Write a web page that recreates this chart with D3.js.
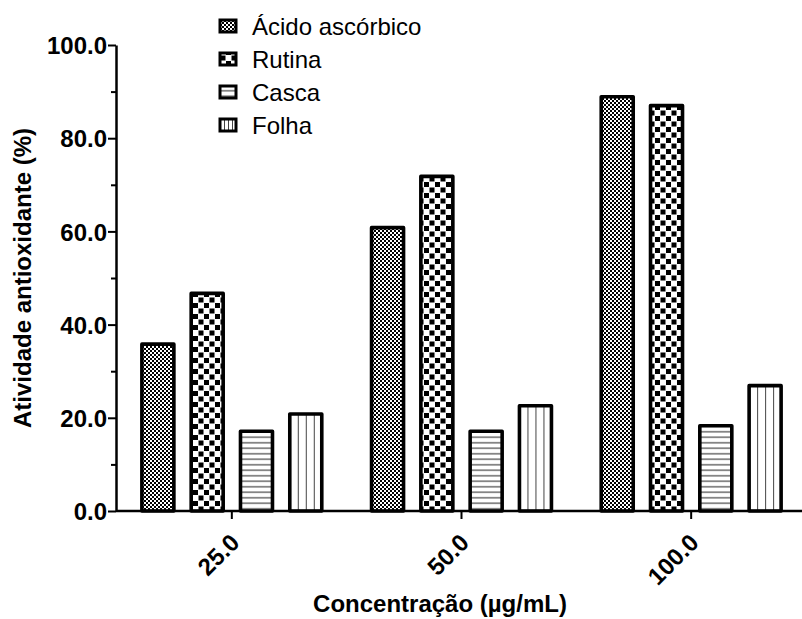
<!DOCTYPE html>
<html><head><meta charset="utf-8">
<script src="https://cdn.jsdelivr.net/npm/d3@7"></script>
<style>
body{margin:0;background:#fff;}
svg{display:block;font-family:"Liberation Sans",Arial,sans-serif;}
</style></head>
<body><svg id="c" width="802" height="619"></svg>
<script>
const categories = ["25.0","50.0","100.0"];
const series = ["Ácido ascórbico","Rutina","Casca","Folha"];
const acido  = [35.8, 60.8, 88.9];
const rutina = [46.7, 71.8, 87.0];
const casca  = [17.1, 17.1, 18.3];
const folha  = [20.8, 22.6, 26.9];
const yTicks = [0,20,40,60,80,100];
const yMinor = [10,30,50,70,90];
const values = [acido, rutina, casca, folha];

const svg = d3.select("#c");
const defs = svg.append("defs");

// patterns
const p0 = defs.append("pattern").attr("id","p0").attr("patternUnits","userSpaceOnUse").attr("width",4).attr("height",4);
p0.append("rect").attr("width",4).attr("height",4).attr("fill","#fff");
p0.append("rect").attr("width",2).attr("height",2).attr("fill","#000");
p0.append("rect").attr("x",2).attr("y",2).attr("width",2).attr("height",2).attr("fill","#000");

const p1 = defs.append("pattern").attr("id","p1").attr("patternUnits","userSpaceOnUse").attr("width",11).attr("height",11);
p1.append("rect").attr("width",11).attr("height",11).attr("fill","#fff");
p1.append("rect").attr("x",0.5).attr("y",0.5).attr("width",5).attr("height",5).attr("fill","#000");
p1.append("rect").attr("x",6).attr("y",6).attr("width",5).attr("height",5).attr("fill","#000");

const p2 = defs.append("pattern").attr("id","p2").attr("patternUnits","userSpaceOnUse").attr("width",10).attr("height",5.5);
p2.append("rect").attr("width",10).attr("height",5.5).attr("fill","#fff");
p2.append("line").attr("x1",0).attr("x2",10).attr("y1",2.75).attr("y2",2.75).attr("stroke","#444").attr("stroke-width",1.2);

const p3 = defs.append("pattern").attr("id","p3").attr("patternUnits","objectBoundingBox").attr("width",0.25).attr("height",1);
p3.append("rect").attr("width",100).attr("height",1000).attr("fill","#fff");
p3.append("line").attr("x1",0).attr("x2",0).attr("y1",0).attr("y2",1000).attr("stroke","#444").attr("stroke-width",2);

const fills = ["url(#p0)","url(#p1)","url(#p2)","url(#p3)"];

const x0 = d3.scaleBand().domain(categories).range([117, 806]);
const x1 = d3.scaleBand().domain(series).range([0, 197.2]).paddingInner(0.351).paddingOuter(0.1755);
const y = d3.scaleLinear().domain([0,100]).range([511, 45]);

// bars
const g = svg.append("g");
categories.forEach((c, ci) => {
  series.forEach((s, si) => {
    const xx = x0(c) + x0.bandwidth()/2 - 98.6 + x1(s);
    g.append("rect")
      .attr("x", xx).attr("y", y(values[si][ci]))
      .attr("width", x1.bandwidth()).attr("height", y(0) - y(values[si][ci]))
      .attr("fill", fills[si]).attr("stroke","#000").attr("stroke-width",3.6)
      .attr("stroke-linejoin","round");
  });
});

// y axis
const ya = svg.append("g").attr("transform","translate(116,0)")
  .call(d3.axisLeft(y).tickValues(yTicks).tickFormat(d3.format(".1f")).tickSize(8).tickSizeOuter(0));
ya.select(".domain").attr("stroke","#000").attr("stroke-width",2.5);
ya.selectAll(".tick line").attr("stroke","#000").attr("stroke-width",2);
ya.selectAll(".tick text").attr("font-size",24).attr("font-weight","bold").attr("fill","#000")
  .attr("font-family","'Liberation Sans',Arial,sans-serif").attr("x",-9).attr("dy","0.36em");
svg.append("g").attr("transform","translate(116,0)")
  .call(d3.axisLeft(y).tickValues(yMinor).tickFormat("").tickSize(5).tickSizeOuter(0))
  .call(s => s.select(".domain").remove())
  .selectAll(".tick line").attr("stroke","#000").attr("stroke-width",2);

// x axis
const xa = svg.append("g").attr("transform","translate(0,511)")
  .call(d3.axisBottom(x0).tickSize(8).tickSizeOuter(0));
xa.select(".domain").attr("stroke","#000").attr("stroke-width",2.5).attr("d","M116,0H802");
xa.selectAll(".tick line").attr("stroke","#000").attr("stroke-width",2);
xa.selectAll(".tick text").attr("font-size",24).attr("font-weight","bold").attr("fill","#000")
  .attr("font-family","'Liberation Sans',Arial,sans-serif")
  .attr("text-anchor","end").attr("dy",0).attr("y",0)
  .attr("transform","translate(9,33) rotate(-45)");

// axis titles
svg.append("text").attr("x",440).attr("y",612).attr("text-anchor","middle")
  .attr("font-size",24).attr("font-weight","bold").text("Concentração (µg/mL)");
svg.append("text").attr("transform","translate(31,278) rotate(-90)").attr("text-anchor","middle")
  .attr("font-size",24).attr("font-weight","bold").text("Atividade antioxidante (%)");

// legend
const lg = svg.append("g");
series.forEach((s, i) => {
  const by = 35 + i*33;
  lg.append("rect").attr("x",220).attr("y",by-15).attr("width",16).attr("height",12)
    .attr("fill",fills[i]).attr("stroke","#000").attr("stroke-width",3);
  lg.append("text").attr("x",252).attr("y",by).attr("font-size",24).attr("fill","#000").text(s);
});
</script></body></html>
